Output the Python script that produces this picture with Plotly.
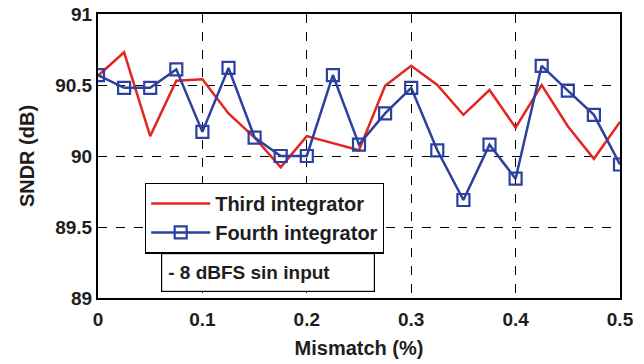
import plotly.graph_objects as go

mismatch = [0, 0.025, 0.05, 0.075, 0.1, 0.125, 0.15, 0.175, 0.2, 0.225, 0.25,
            0.275, 0.3, 0.325, 0.35, 0.375, 0.4, 0.425, 0.45, 0.475, 0.5]
third = [90.565, 90.73, 90.14, 90.53, 90.54, 90.30, 90.13, 89.92, 90.14, 90.09, 90.04,
         90.495, 90.635, 90.5, 90.29, 90.465, 90.20, 90.5, 90.21, 89.98, 90.24]
fourth = [90.57, 90.48, 90.48, 90.61, 90.17, 90.62, 90.13, 90.0, 90.0, 90.57, 90.08,
          90.30, 90.48, 90.04, 89.69, 90.08, 89.84, 90.635, 90.46, 90.29, 89.94]

x_ticks = [0, 0.1, 0.2, 0.3, 0.4, 0.5]
x_tick_labels = ["0", "0.1", "0.2", "0.3", "0.4", "0.5"]
y_ticks = [89, 89.5, 90, 90.5, 91]
y_tick_labels = ["89", "89.5", "90", "90.5", "91"]

RED = "#e3261f"
BLUE = "#2d3f9f"
FONT = "Liberation Sans"
TXT = "#1e1e1e"

fig = go.Figure()
fig.add_trace(go.Scatter(x=mismatch, y=third, mode="lines", name="Third integrator",
                         line=dict(color=RED, width=2.5)))
fig.add_trace(go.Scatter(x=mismatch, y=fourth, mode="lines+markers", name="Fourth integrator",
                         line=dict(color=BLUE, width=2.5),
                         marker=dict(symbol="square-open", size=12, color=BLUE,
                                     line=dict(width=2.2, color=BLUE))))

axis_common = dict(showline=True, linecolor="black", linewidth=2, mirror=True,
                   showgrid=True, gridcolor="black", griddash="dash", gridwidth=1,
                   zeroline=False, ticks="", automargin=False,
                   tickfont=dict(family=FONT, size=19, color=TXT, weight="bold"))

fig.update_xaxes(range=[0, 0.5], tickvals=x_ticks, ticktext=x_tick_labels,
                 ticklabelstandoff=3,
                 title=dict(text="Mismatch (%)", standoff=12,
                            font=dict(family=FONT, size=20, color=TXT, weight="bold")),
                 **axis_common)
fig.update_yaxes(range=[89, 91], tickvals=y_ticks, ticktext=y_tick_labels,
                 title=dict(text="SNDR (dB)", standoff=15,
                            font=dict(family=FONT, size=20, color=TXT, weight="bold")),
                 **axis_common)

fig.add_annotation(xref="paper", yref="paper", x=0.326, y=0.0898,
                   xanchor="center", yanchor="middle",
                   text="- 8 dBFS sin input", showarrow=False, align="left",
                   width=200, height=25, borderpad=6,
                   bgcolor="white", bordercolor="black", borderwidth=1.2,
                   font=dict(family=FONT, size=19, color=TXT, weight="bold"))

fig.update_layout(
    width=644, height=364,
    margin=dict(l=98, r=24, t=14, b=66),
    paper_bgcolor="white", plot_bgcolor="white",
    legend=dict(x=0.09, y=0.406, xanchor="left", yanchor="top",
                bgcolor="white", bordercolor="black", borderwidth=1.2,
                font=dict(family=FONT, size=20, color=TXT, weight="bold"),
                tracegroupgap=0, itemwidth=59),
    showlegend=True,
)

fig.write_html("out.html")
